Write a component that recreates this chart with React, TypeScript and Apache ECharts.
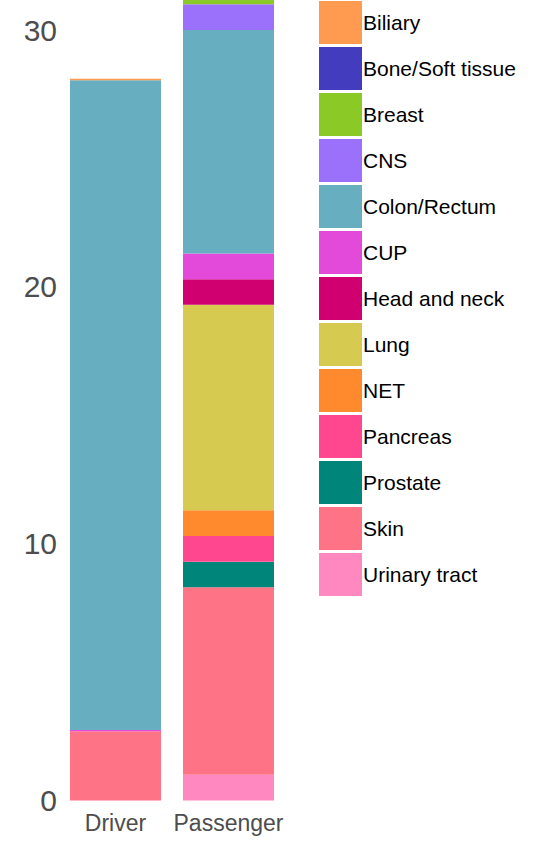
import React, { useEffect, useRef } from "react";
import * as echarts from "echarts";

const categories = ["Driver", "Passenger"];

// legend order (top to bottom)
const tumourTypes = [
  "Biliary",
  "Bone/Soft tissue",
  "Breast",
  "CNS",
  "Colon/Rectum",
  "CUP",
  "Head and neck",
  "Lung",
  "NET",
  "Pancreas",
  "Prostate",
  "Skin",
  "Urinary tract",
];

const colors = [
  "#FF9B50",
  "#433CBE",
  "#8BC926",
  "#9B70FA",
  "#67AFC0",
  "#E44AD9",
  "#D10071",
  "#D6CA50",
  "#FF8A2E",
  "#FF478F",
  "#00857A",
  "#FF7387",
  "#FF88C0",
];

// values per tumour type: [Driver, Passenger]
const driverValues = [0.05, 0, 0, 0, 25.3, 0.05, 0, 0, 0, 0, 0, 2.7, 0];
const passengerValues = [0, 0, 1, 1, 8.7, 1, 1, 8, 1, 1, 1, 7.3, 1];

const yTicks = [0, 10, 20, 30];

export default function App() {
  const ref = useRef<HTMLDivElement>(null);
  useEffect(() => {
    if (!ref.current) return;
    const chart = echarts.init(ref.current, null, { renderer: "svg" });
    const font = "'Liberation Sans', Arial, sans-serif";
    // stack bottom-up: reverse of legend order
    const order = tumourTypes.map((_, i) => i).reverse();
    const series = order.map((i) => ({
      name: tumourTypes[i],
      type: "bar",
      stack: "total",
      barWidth: 91,
      itemStyle: { color: colors[i] },
      data: [driverValues[i], passengerValues[i]],
    }));
    chart.setOption({
      animation: false,
      textStyle: { fontFamily: font },
      grid: { left: 59, width: 226, top: 0, bottom: 41.5, containLabel: false },
      legend: {
        data: tumourTypes,
        orient: "vertical",
        left: 319,
        top: 1,
        padding: 0,
        itemWidth: 43,
        itemHeight: 43,
        itemGap: 3,
        icon: "rect",
        selectedMode: false,
        textStyle: {
          fontSize: 21,
          color: "#000",
          fontFamily: font,
          padding: [0, 0, 0, -4],
        },
      },
      xAxis: {
        type: "category",
        data: categories,
        axisLine: { show: false },
        axisTick: { show: false },
        axisLabel: {
          interval: 0,
          hideOverlap: false,
          fontSize: 23,
          color: "#4d4d4d",
          margin: 11,
          fontFamily: font,
        },
      },
      yAxis: {
        type: "value",
        min: 0,
        max: 31.17,
        interval: 10,
        splitLine: { show: false },
        axisLine: { show: false },
        axisTick: { show: false },
        axisLabel: {
          fontSize: 30,
          color: "#4d4d4d",
          margin: 2,
          fontFamily: font,
          formatter: (v: number) => (yTicks.includes(v) ? String(v) : ""),
        },
      },
      series,
    });
    return () => chart.dispose();
  }, []);
  return (
    <div
      ref={ref}
      style={{ position: "absolute", left: 0, top: 0, width: 534, height: 842 }}
    />
  );
}
